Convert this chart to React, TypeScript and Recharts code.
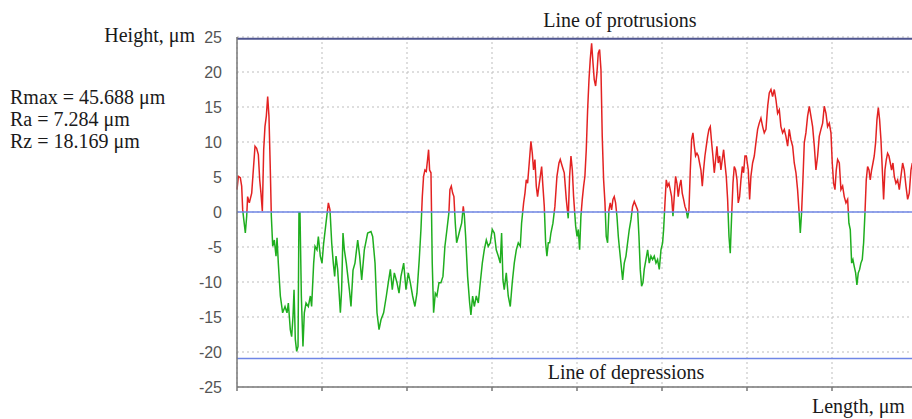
import React from 'react';
import { LineChart, Line, XAxis, YAxis, CartesianGrid, ReferenceLine } from 'recharts';

// Profile length positions (one unit = one vertical grid interval)
const lengths = [
  0, 0.016, 0.039, 0.055, 0.067, 0.082, 0.098, 0.114, 0.125, 0.145,
  0.173, 0.192, 0.212, 0.231, 0.251, 0.267, 0.282, 0.298, 0.314, 0.329,
  0.345, 0.361, 0.376, 0.392, 0.404, 0.42, 0.439, 0.459, 0.471, 0.486,
  0.51, 0.537, 0.565, 0.588, 0.604, 0.627, 0.643, 0.659, 0.671, 0.686,
  0.702, 0.718, 0.729, 0.741, 0.757, 0.776, 0.792, 0.812, 0.839, 0.863,
  0.878, 0.902, 0.918, 0.941, 0.957, 0.98, 1.0, 1.02, 1.047, 1.075,
  1.094, 1.114, 1.133, 1.149, 1.165, 1.184, 1.216, 1.231, 1.247, 1.263,
  1.286, 1.322, 1.341, 1.365, 1.388, 1.42, 1.443, 1.467, 1.498, 1.537,
  1.576, 1.596, 1.624, 1.647, 1.671, 1.694, 1.725, 1.757, 1.78, 1.804,
  1.827, 1.851, 1.882, 1.906, 1.929, 1.961,
  1.988, 2.015, 2.039, 2.066, 2.093, 2.117, 2.144, 2.164, 2.18, 2.195,
  2.211, 2.227, 2.242, 2.254, 2.266, 2.282, 2.297, 2.313, 2.333, 2.352,
  2.376, 2.399, 2.423, 2.446, 2.47, 2.493, 2.505, 2.521, 2.537, 2.552,
  2.568, 2.584, 2.603, 2.623, 2.643, 2.662, 2.674, 2.69, 2.713, 2.737,
  2.752, 2.772, 2.792, 2.815, 2.839, 2.862, 2.886, 2.909, 2.933, 2.956,
  2.98, 3.003, 3.027, 3.05, 3.074, 3.097, 3.113, 3.129, 3.144, 3.168,
  3.191, 3.215, 3.238, 3.262, 3.286, 3.309, 3.333, 3.348, 3.372, 3.388,
  3.403, 3.419, 3.438, 3.458, 3.474, 3.489, 3.505, 3.521, 3.536, 3.552,
  3.568, 3.584, 3.599, 3.615, 3.631, 3.646, 3.662, 3.678, 3.693, 3.717,
  3.74, 3.764, 3.788, 3.803, 3.827, 3.85, 3.874, 3.897, 3.913, 3.929,
  3.945, 3.96,
  3.968, 3.984, 4.0, 4.015, 4.031, 4.046, 4.062, 4.078,
  4.093, 4.109, 4.125, 4.141, 4.156, 4.172, 4.188, 4.203, 4.219, 4.235,
  4.25, 4.266, 4.282, 4.297, 4.313, 4.329, 4.344, 4.36, 4.376, 4.391,
  4.407, 4.423, 4.438, 4.454, 4.47, 4.486, 4.501, 4.517, 4.537, 4.556,
  4.576, 4.595, 4.615, 4.635, 4.654, 4.674, 4.697, 4.713, 4.729, 4.744,
  4.76, 4.776, 4.791, 4.811, 4.831, 4.85, 4.87, 4.889, 4.909, 4.929,
  4.948, 4.968, 4.988, 5.007, 5.019, 5.035, 5.05, 5.066, 5.082, 5.097,
  5.113, 5.129, 5.144, 5.16, 5.176, 5.191, 5.207, 5.223, 5.238, 5.254,
  5.27, 5.285, 5.301, 5.317, 5.333, 5.348, 5.364, 5.38, 5.395, 5.411,
  5.427, 5.442, 5.458, 5.474, 5.489, 5.505, 5.521, 5.537, 5.552, 5.568,
  5.584, 5.599, 5.615, 5.631, 5.646, 5.662, 5.678, 5.693, 5.709, 5.725,
  5.74, 5.756, 5.772, 5.788, 5.803, 5.819, 5.835, 5.85, 5.866, 5.882,
  5.897, 5.913, 5.929, 5.945, 5.96, 5.976,
  5.992, 6.015, 6.031, 6.046, 6.066, 6.086, 6.105, 6.125, 6.144, 6.164,
  6.184, 6.203, 6.223, 6.243, 6.262, 6.282, 6.301, 6.321, 6.341, 6.36,
  6.38, 6.399, 6.419, 6.439, 6.458, 6.478, 6.497, 6.517, 6.537, 6.556,
  6.576, 6.595, 6.611, 6.627, 6.642, 6.658, 6.674, 6.693, 6.713, 6.733,
  6.752, 6.772, 6.792, 6.811, 6.831, 6.85, 6.87, 6.89, 6.909, 6.929,
  6.948, 6.968, 6.988, 7.003, 7.019, 7.035, 7.05, 7.066, 7.086, 7.105,
  7.125, 7.144, 7.164, 7.184, 7.199, 7.215, 7.231, 7.246, 7.262, 7.278,
  7.293, 7.309, 7.325, 7.34, 7.356, 7.372, 7.388, 7.403, 7.419, 7.435,
  7.45, 7.466, 7.482, 7.497, 7.513, 7.529, 7.545, 7.56, 7.576, 7.592,
  7.607, 7.623, 7.639, 7.654, 7.67, 7.686, 7.701, 7.717, 7.733, 7.752,
  7.772, 7.792, 7.811, 7.831, 7.85, 7.87, 7.89, 7.909, 7.929, 7.945,
];

// Profile height, µm
const heights = [
  3.2, 5.1, 4.9, 3.7, 0.3, -1.3, -3.0, -0.6, 2.2, 1.3,
  2.7, 6.0, 9.4, 9.1, 8.2, 4.6, 2.7, 0.1, 8.9, 12.2,
  13.7, 16.5, 13.7, 6.0, -0.6, -4.9, -4.0, -6.3, -3.7, -7.3,
  -12.0, -14.4, -13.5, -14.4, -13.0, -16.8, -17.8, -14.9, -11.1, -18.2,
  -19.9, -19.2, -0.1, -0.1, -12.0, -19.2, -14.4, -13.0, -13.5, -12.0,
  -13.5, -7.3, -4.9, -5.4, -3.5, -6.3, -7.3, -4.4, -1.6, 1.3,
  0.3, -4.4, -7.3, -9.2, -6.3, -8.2, -14.4, -11.1, -3.0, -5.4,
  -7.3, -11.1, -13.5, -8.3, -7.3, -4.0, -6.3, -9.7, -5.4, -3.0,
  -2.8, -3.5, -7.3, -14.4, -16.8, -15.4, -14.4, -12.0, -10.1, -8.2,
  -11.1, -8.7, -10.1, -11.6, -9.2, -7.3,
  -11.1, -8.7, -10.1, -12.0, -13.5, -11.6, -6.8, -2.5, 2.2, 5.1,
  6.0, 5.8, 7.5, 8.9, 6.0, 5.6, -7.3, -14.4, -11.6, -12.0,
  -10.1, -10.1, -9.2, -4.9, -2.5, -0.1, 3.2, 3.7, 2.7, 2.2,
  -1.6, -4.4, -3.5, -2.5, -1.6, 0.8, -0.4, -3.5, -9.2, -13.0,
  -14.7, -12.0, -13.5, -12.0, -13.0, -10.1, -7.3, -5.4, -4.0, -4.9,
  -4.4, -2.5, -3.0, -5.4, -6.3, -7.3, -3.0, -9.7, -11.1, -8.7,
  -12.0, -13.5, -10.1, -7.3, -5.4, -4.4, -4.9, -1.6, 1.3, 2.7,
  4.6, 4.1, 7.0, 10.1, 8.4, 6.0, 7.5, 3.7, 2.2, 3.7,
  5.1, 6.5, 3.7, 0.8, -4.4, -6.3, -4.4, -4.4, -3.0, -1.6,
  0.8, 5.1, 7.0, 7.5, 6.5, 5.6, 1.8, -0.9, 5.1, 8.0,
  6.0, 2.2,
  0.8, -2.0, -3.5, -2.5, -5.4, -0.6, 1.8, 3.7,
  5.1, 8.9, 14.6, 18.9, 21.8, 24.1, 21.3, 18.9, 18.0, 19.9,
  22.7, 23.2, 20.3, 10.8, 4.6, 1.3, -3.5, -4.4, 0.3, 1.3,
  0.3, 1.8, 2.2, 1.3, -0.6, -3.5, -5.4, -7.3, -9.7, -7.3,
  -6.3, -4.4, -2.5, -1.1, 0.8, 1.5, 0.8, 0.3, -3.5, -8.2,
  -10.6, -10.1, -8.2, -6.8, -5.4, -7.3, -6.3, -6.8, -6.3, -7.3,
  -6.8, -8.2, -5.4, -4.4, -2.5, 1.3, 4.6, 3.7, 4.1, 3.2,
  2.2, -0.6, 2.2, 5.1, 4.1, 2.2, 3.7, 4.6, 2.7, 1.8,
  0.8, 0.3, -0.9, 0.3, 6.0, 10.3, 11.3, 9.4, 8.0, 8.4,
  8.0, 7.0, 6.0, 3.7, 6.0, 8.0, 9.4, 10.8, 11.8, 12.2,
  9.9, 8.0, 5.6, 7.5, 9.4, 7.0, 8.0, 6.0, 7.5, 8.9,
  7.0, 5.1, 1.8, -3.5, -5.9, -0.6, 4.1, 6.5, 6.0, 4.6,
  1.3, 2.2, 4.6, 6.5, 5.6, 8.0,
  8.0, 6.0, 1.8, 5.1, 7.0, 8.0, 9.9, 11.8, 12.7, 13.4,
  12.2, 11.3, 11.8, 15.1, 17.0, 17.5, 16.5, 17.5, 16.0, 14.1,
  14.6, 12.2, 11.3, 11.8, 10.8, 9.4, 11.8, 10.3, 9.4, 7.0,
  5.6, 3.2, 0.3, -3.0, -0.1, 4.6, 9.9, 11.3, 13.7, 15.1,
  13.7, 12.2, 9.4, 6.0, 8.0, 10.8, 11.8, 12.7, 15.1, 14.1,
  12.2, 12.7, 11.3, 7.0, 4.1, 3.2, 6.0, 7.5, 7.0, 3.2,
  3.7, 2.2, 1.3, 1.8, -1.6, -2.5, -7.3, -6.8, -7.8, -8.7,
  -10.4, -8.7, -8.2, -7.3, -6.8, -4.4, -0.1, 4.6, 6.5, 6.0,
  4.6, 6.0, 7.0, 8.0, 9.9, 13.2, 14.9, 13.2, 10.3, 6.0,
  1.8, 6.0, 7.5, 8.4, 8.0, 7.0, 6.0, 7.0, 5.1, 4.1,
  4.6, 3.2, 5.1, 7.0, 6.0, 3.7, 1.8, 2.7, 6.0, 7.0,
];

const yTicks = [25, 20, 15, 10, 5, 0, -5, -10, -15, -20, -25];
const xTicks = [0, 1, 2, 3, 4, 5, 6, 7, 8];
const protrusionLevel = 24.75;
const depressionLevel = -20.94;
const stats = ['Rmax = 45.688 μm', 'Ra = 7.284 μm', 'Rz = 18.169 μm'];

const profile = lengths.map((x, i) => ({ x, h: heights[i] }));

const hMax = Math.max(...heights);
const hMin = Math.min(...heights);
const zeroOffset = hMax / (hMax - hMin);

const serif = '"Liberation Serif", "Times New Roman", serif';

// length axis has tick marks but no labels
const NoLabel = () => <g />;

const App: React.FC = () => {
  return (
    <div style={{ position: 'absolute', left: 0, top: 0, width: 912, height: 419, overflow: 'hidden', background: '#fff' }}>
      <LineChart
        width={920}
        height={419}
        data={profile}
        margin={{ top: 37, right: 3, bottom: 2, left: 177 }}
      >
        <defs>
          <linearGradient id="profileStroke" x1="0" y1="0" x2="0" y2="1">
            <stop offset={zeroOffset} stopColor="#e32222" />
            <stop offset={zeroOffset} stopColor="#1fae1f" />
          </linearGradient>
        </defs>
        <CartesianGrid stroke="#bdbdbd" strokeDasharray="2 3" />
        <XAxis
          dataKey="x"
          type="number"
          domain={[0, 8]}
          ticks={xTicks}
          interval={0}
          tick={NoLabel}
          tickSize={4}
          stroke="#777"
          strokeWidth={1.5}
          height={30}
        />
        <YAxis
          type="number"
          domain={[-25, 25]}
          ticks={yTicks}
          interval={0}
          width={60}
          tickLine={false}
          tickSize={0}
          tickMargin={15}
          stroke="#777"
          strokeWidth={1.5}
          tick={{ fill: '#555', fontSize: 16, fontFamily: '"Liberation Sans", Arial, sans-serif' }}
        />
        <Line
          type="linear"
          dataKey="h"
          stroke="url(#profileStroke)"
          strokeWidth={1.5}
          dot={false}
          isAnimationActive={false}
        />
        <ReferenceLine y={0} stroke="#6f86e6" strokeWidth={1.5} />
        <ReferenceLine y={depressionLevel} stroke="#6f86e6" strokeWidth={1.5} />
        <ReferenceLine y={protrusionLevel} stroke="#4f5590" strokeWidth={2} />
      </LineChart>

      <svg
        width={912}
        height={419}
        style={{ position: 'absolute', left: 0, top: 0, pointerEvents: 'none' }}
      >
        <g fontFamily={serif} fontSize={20} fill="#1a1a1a">
          <text x={195} y={42} textAnchor="end">Height, μm</text>
          {stats.map((s, i) => (
            <text key={s} x={10} y={104 + i * 22}>{s}</text>
          ))}
          <text x={620} y={27} textAnchor="middle">Line of protrusions</text>
          <text x={626} y={379} textAnchor="middle">Line of depressions</text>
          <text x={812} y={413}>Length, μm</text>
        </g>
      </svg>
    </div>
  );
};

export default App;
